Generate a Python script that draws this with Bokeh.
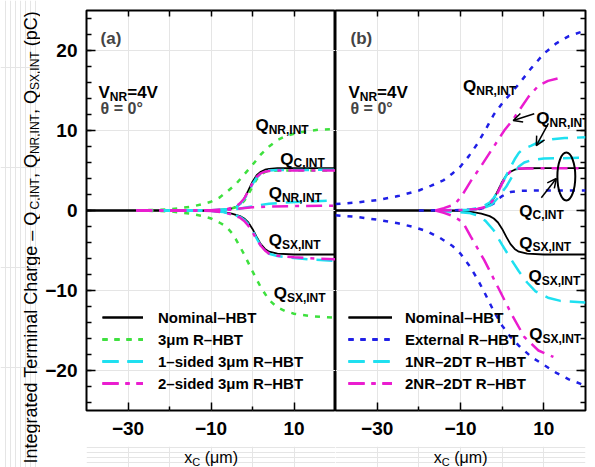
from bokeh.plotting import figure
from bokeh.models import (Range1d, LinearAxis, FixedTicker, Label, Legend, LegendItem,
                          Arrow, OpenHead)
from bokeh.layouts import row, column
from bokeh.embed import file_html
from bokeh.resources import INLINE

FONT = "Liberation Sans"

# ---------------- data: integrated terminal charge (pC) vs x_C (um) ----------------
# Nominal HBT (used in both panels)
nom_x = [-40, -20, -10, -7, -5, -4, -3, -2, -1, 0, 1, 2, 3, 4, 6, 10, 20]
nom_qc = [0, 0, 0.02, 0.1, 0.25, 0.45, 0.8, 1.5, 2.5, 3.6, 4.4, 4.85, 5.1, 5.2, 5.28, 5.3, 5.3]
nom_qsx = [0, 0, -0.05, -0.2, -0.4, -0.55, -0.7, -1.0, -1.5, -2.3, -3.3, -4.2, -4.8, -5.15, -5.4, -5.5, -5.5]

# (a) 3um R-HBT
r3_nr_x = [-28, -20, -15, -12, -10, -8, -6, -4, -2, 0, 2, 4, 6, 8, 10, 13, 16, 20]
r3_nr = [0, 0.15, 0.45, 0.8, 1.1, 1.6, 2.4, 3.3, 4.5, 5.7, 7.0, 8.0, 8.8, 9.3, 9.6, 9.9, 10.1, 10.2]
r3_c_x = [-28, -10, -6, -4, -3, -2, -1, 0, 1, 2, 3, 4, 6, 20]
r3_c = [0, 0, 0.15, 0.4, 0.7, 1.2, 2.0, 3.0, 3.9, 4.5, 4.8, 4.95, 5.0, 5.0]
r3_sx_x = [-28, -20, -15, -12, -10, -8, -7, -6, -5, -4, -2, 0, 2, 4, 6, 8, 10, 14, 20]
r3_sx = [0, -0.1, -0.4, -0.7, -1.0, -1.5, -1.8, -2.2, -2.8, -3.6, -5.5, -7.6, -9.6, -11.2, -12.1, -12.6, -12.9, -13.2, -13.4]

# (a) 1-sided 3um R-HBT
s1_c_x = [-28, -10, -6, -4, -3, -2, -1, 0, 1, 2, 3, 4, 6, 20]
s1_c = [0, 0.02, 0.15, 0.4, 0.8, 1.4, 2.3, 3.3, 4.1, 4.6, 4.85, 5.0, 5.05, 5.1]
s1_nr_x = [-28, -10, -5, -3, 0, 2, 4, 8, 12, 20]
s1_nr = [0, 0, 0.1, 0.25, 0.5, 0.7, 0.85, 1.0, 1.1, 1.25]
s1_sx_x = [-28, -10, -7, -5, -3, -2, -1, 0, 1, 2, 3, 4, 6, 10, 15, 20]
s1_sx = [0, -0.05, -0.2, -0.45, -0.8, -1.15, -1.7, -2.5, -3.5, -4.4, -5.0, -5.4, -5.7, -5.95, -6.15, -6.3]

# (a) 2-sided 3um R-HBT
s2_c_x = [-28, -10, -6, -4, -3, -2, -1, 0, 1, 2, 3, 4, 6, 20]
s2_c = [0, 0.02, 0.2, 0.5, 0.9, 1.5, 2.4, 3.4, 4.2, 4.65, 4.85, 4.95, 5.0, 5.0]
s2_nr_x = [-28, -10, -5, -3, 0, 4, 10, 20]
s2_nr = [0, 0, 0.1, 0.25, 0.4, 0.5, 0.55, 0.6]
s2_sx_x = [-28, -10, -7, -5, -3, -2, -1, 0, 1, 2, 3, 4, 6, 10, 15, 20]
s2_sx = [0, -0.05, -0.25, -0.5, -0.9, -1.3, -1.9, -2.7, -3.6, -4.4, -5.0, -5.4, -5.65, -5.85, -6.0, -6.1]

# (b) External R-HBT
ex_nr_x = [-40, -35, -30, -25, -20, -17, -14, -12, -10, -8, -6, -4, -2, 0, 2, 4, 7, 10, 13, 16, 20]
ex_nr = [0.8, 1.0, 1.3, 1.8, 2.5, 3.1, 3.8, 4.6, 5.5, 6.8, 8.3, 10.1, 12.0, 13.4, 14.6, 15.8, 17.8, 19.6, 20.9, 21.8, 22.5]
ex_c_x = [-20, -10, -6, -4, -2, -1, 0, 1, 2, 4, 8, 20]
ex_c = [0, 0.05, 0.15, 0.35, 0.9, 1.4, 1.8, 2.1, 2.3, 2.45, 2.5, 2.5]
ex_sx_x = [-40, -35, -30, -25, -21, -18, -15, -12, -10, -8, -6, -4, -2, 0, 2, 4, 7, 10, 13, 16, 20]
ex_sx = [-0.6, -0.8, -1.15, -1.6, -2.1, -2.6, -3.4, -4.4, -5.4, -6.8, -8.5, -10.5, -12.6, -14.4, -15.8, -16.9, -18.3, -19.3, -20.3, -21.1, -21.9]

# (b) 1NR-2DT R-HBT
d1_c_x = [-16, -8, -5, -3, -2, -1, 0, 1, 2, 3, 4, 5.3, 7, 10, 20]
d1_c = [0, 0.05, 0.2, 0.6, 1.0, 1.6, 2.3, 3.0, 3.9, 4.8, 5.5, 6.0, 6.3, 6.5, 6.6]
d1_nr_x = [-16, -8, -5, -3, -2, -1, 0, 1, 2, 3, 4, 5, 7, 9, 12, 15, 20]
d1_nr = [0, 0.1, 0.4, 1.0, 1.6, 2.4, 3.4, 4.4, 5.4, 6.4, 7.2, 7.7, 8.1, 8.6, 8.9, 9.05, 9.15]
d1_sx_x = [-16, -8, -6, -4, -2, 0, 2, 4, 6, 8, 11, 14, 20]
d1_sx = [0, -0.3, -0.6, -1.3, -2.5, -4.3, -6.0, -7.6, -9.0, -10.1, -10.9, -11.3, -11.5]

# (b) 2NR-2DT R-HBT
d2_nr_x = [-16, -14, -12.3, -11, -9.5, -7.5, -5, -2, 0.5, 2.5, 4.6, 6.3, 8.7, 11, 14.7]
d2_nr = [0, 0.3, 0.6, 1.0, 2.0, 3.7, 5.6, 8.0, 10.0, 11.3, 12.9, 14.2, 15.6, 16.2, 16.7]
d2_c_x = [-16, -10, -6, -4, -3, -2, -1, 0, 1, 2, 3, 4, 20]
d2_c = [0, 0.05, 0.2, 0.45, 0.8, 1.4, 2.3, 3.4, 4.3, 4.9, 5.15, 5.25, 5.3]
d2_sx_x = [-16, -14, -12.3, -10.5, -9.2, -7.5, -4.3, -1, 2.2, 5.3, 8.7, 12.3]
d2_sx = [0, -0.3, -0.6, -1.1, -1.7, -3.3, -6.2, -9.6, -12.9, -15.8, -17.5, -18.3]

legend_a = ["Nominal\u2013HBT", "3\u03bcm R\u2013HBT", "1\u2013sided 3\u03bcm R\u2013HBT", "2\u2013sided 3\u03bcm R\u2013HBT"]
legend_b = ["Nominal\u2013HBT", "External R\u2013HBT", "1NR\u20132DT R\u2013HBT", "2NR\u20132DT R\u2013HBT"]

x_ticks = [-30, -10, 10]
x_minor = [-20, 0]
x_top_ticks = [-30, -20, -10, 0, 10]
y_ticks = [-20, -10, 0, 10, 20]
y_minor = list(range(-24, 25, 2))

# ---------------- styles ----------------
BLACK = "#000000"
GREEN = "#3ee03e"
CYAN = "#1ee0f0"
MAGENTA = "#ea1ccf"
BLUE = "#1f1fe6"
DOTS = "5 7"
LONG = "16 9"
DASHDOT = "16 7 4 7"

REG = {' ': 278, '(': 333, ')': 333, ',': 278, '\u2013': 556, '=': 584, '0': 556, '4': 556,
       '\u00b0': 400, 'C': 722, 'I': 278, 'N': 722, 'Q': 778, 'R': 722, 'S': 667, 'T': 611,
       'V': 667, 'X': 667, 'a': 556, 'c': 500, 'd': 556, 'e': 556, 'g': 556, 'h': 556,
       'i': 222, 'l': 222, 'm': 833, 'n': 556, 'p': 556, 'r': 333, 't': 278, 'x': 500,
       '\u03bc': 556}
BOLD = dict(REG, **{'c': 556, 'd': 611, 'g': 611, 'h': 611, 'i': 278, 'l': 278, 'm': 889,
                    'n': 611, 'p': 611, 'r': 389, 't': 333, 'x': 556, '\u03bc': 611})


def text_width(s, size, bold):
    table = BOLD if bold else REG
    return sum(table.get(ch, 556) for ch in s) * size / 1000.0


def rich(p, x, y, parts, big, small, bold, sx, sy, drop, angle=0.0):
    """Place text with subscripts; parts is a list of (text, is_subscript)."""
    pos = 0.0
    for txt, is_sub in parts:
        size = small if is_sub else big
        stripped = txt.lstrip(" ")
        pos += text_width(txt[:len(txt) - len(stripped)], size, bold)
        if angle == 0:
            lx = x + pos / sx
            ly = y - (drop / sy if is_sub else 0.0)
        else:
            lx = x + (drop / sx if is_sub else 0.0)
            ly = y + pos / sy
        p.add_layout(Label(x=lx, y=ly, text=stripped, angle=angle, text_font=FONT,
                           text_font_size=f"{size}px",
                           text_font_style="bold" if bold else "normal",
                           text_color="black", text_align="left", text_baseline="alphabetic"))
        pos += text_width(stripped, size, bold)


def axis(ticks, minor, tick_in, minor_in, labels, standoff=0, overrides=None):
    ax = LinearAxis(ticker=FixedTicker(ticks=ticks, minor_ticks=minor),
                    axis_line_color=None, major_tick_in=tick_in, major_tick_out=0,
                    minor_tick_in=minor_in, minor_tick_out=0,
                    major_tick_line_width=1.5, minor_tick_line_width=1.5,
                    major_tick_line_color="black", minor_tick_line_color="black",
                    major_label_text_font=FONT, major_label_text_font_style="bold",
                    major_label_text_font_size="19px", major_label_text_color="black")
    if labels:
        ax.major_label_standoff = standoff
        if overrides:
            ax.major_label_overrides = overrides
    else:
        ax.major_label_standoff = 0
        ax.major_label_overrides = {t: "" for t in ticks}
    return ax


def blank(width, height, xr, yr, left=0, right=0):
    p = figure(width=width, height=height, x_range=xr, y_range=yr,
               output_backend="svg", toolbar_location=None,
               x_axis_location=None, y_axis_location=None,
               min_border_left=left, min_border_right=right,
               min_border_top=0, min_border_bottom=0)
    p.outline_line_color = None
    p.background_fill_color = "white"
    p.border_fill_color = "white"
    return p


def panel(width, left, right):
    p = figure(width=width, height=446, x_range=Range1d(-40, 20), y_range=Range1d(-25, 25),
               output_backend="svg", toolbar_location=None,
               x_axis_location=None, y_axis_location=None,
               min_border_left=left, min_border_right=right,
               min_border_top=10, min_border_bottom=36)
    p.outline_line_color = "black"
    p.outline_line_width = 2
    p.background_fill_color = "white"
    p.border_fill_color = "white"
    p.add_layout(axis(x_ticks, x_minor, 8, 4, True, 11,
                      {-30: "\u221230", -10: "\u221210", 10: "10"}), "below")
    p.add_layout(axis(x_top_ticks, [], 6, 0, False), "above")
    return p


def curves(p, xs_ys, color, dash, width):
    rs = []
    for xs, ys in xs_ys:
        rs.append(p.line(xs, ys, line_color=color, line_dash=dash, line_width=width))
    return rs


def legend(p, names, groups, x0, glyph_w, standoff):
    items = [LegendItem(label=n, renderers=g) for n, g in zip(names, groups)]
    lg = Legend(items=items, location=(x0, 17), glyph_width=glyph_w, glyph_height=20,
                label_height=20, label_standoff=standoff, spacing=2, padding=0, margin=0,
                border_line_alpha=0, background_fill_alpha=0,
                label_text_font=FONT, label_text_font_style="bold",
                label_text_font_size="15px", label_text_color="black",
                label_text_baseline="middle")
    p.add_layout(lg)


def q_label(p, x, y, sub, sx):
    rich(p, x, y, [("Q", False), (sub, True)], 17, 12, True, sx, 8, 4)


def header(p, tag, x, sx):
    p.add_layout(Label(x=x, y=21.5, text=tag, text_font=FONT, text_font_size="17px",
                       text_font_style="bold", text_baseline="alphabetic"))
    rich(p, x - 0.5, 14.75, [("V", False), ("NR", True), ("=4V", False)], 17, 12, True, sx, 8, 4)
    p.add_layout(Label(x=x, y=12.75, text="\u03b8 = 0\u00b0", text_font=FONT,
                       text_font_size="16px", text_font_style="bold",
                       text_baseline="alphabetic"))


def x_title(width, left, right, sx):
    p = blank(width, 21, Range1d(-40, 20), Range1d(0, 21), left, right)
    parts = [("x", False), ("C", True), (" (\u03bcm)", False)]
    w = sum(text_width(t, 11 if s else 16, False) for t, s in parts)
    rich(p, -10 - w / 2 / sx, 10, parts, 16, 11, False, sx, 1, 4.5)
    return p


# ---------------- panel (a) ----------------
pa = panel(295, 46, 0)
SXA = 249 / 60.0
pa.add_layout(axis(y_ticks, y_minor, 9, 5, True, 9,
                   {-20: "\u221220", -10: "\u221210", 0: "0", 10: "10", 20: "20"}), "left")

g_nom_a = curves(pa, [(nom_x, nom_qc), (nom_x, nom_qsx)], BLACK, "solid", 1.8)
g_r3 = curves(pa, [(r3_nr_x, r3_nr), (r3_c_x, r3_c), (r3_sx_x, r3_sx)], GREEN, DOTS, 2.5)
g_s1 = curves(pa, [(s1_c_x, s1_c), (s1_nr_x, s1_nr), (s1_sx_x, s1_sx)], CYAN, LONG, 2.5)
g_s2 = curves(pa, [(s2_c_x, s2_c), (s2_nr_x, s2_nr), (s2_sx_x, s2_sx)], MAGENTA, DASHDOT, 2.5)
legend(pa, legend_a, [g_nom_a, g_r3, g_s1, g_s2], 16, 41, 15)

header(pa, "(a)", -36.6, SXA)
q_label(pa, 0.7, 10.6, "NR,INT", SXA)
q_label(pa, 6.7, 6.4, "C,INT", SXA)
q_label(pa, 3.9, 2.1, "NR,INT", SXA)
q_label(pa, 3.9, -3.75, "SX,INT", SXA)
q_label(pa, 5.1, -10.4, "SX,INT", SXA)

# ---------------- panel (b) ----------------
pb = panel(260, 0, 10)
SXB = 250 / 60.0
pb.add_layout(axis(y_ticks, y_minor, 9, 5, False), "right")

g_nom_b = curves(pb, [(nom_x, nom_qc), (nom_x, nom_qsx)], BLACK, "solid", 1.8)
g_ex = curves(pb, [(ex_nr_x, ex_nr), (ex_c_x, ex_c), (ex_sx_x, ex_sx)], BLUE, DOTS, 2.5)
g_d1 = curves(pb, [(d1_c_x, d1_c), (d1_nr_x, d1_nr), (d1_sx_x, d1_sx)], CYAN, LONG, 2.5)
g_d2 = curves(pb, [(d2_nr_x, d2_nr), (d2_c_x, d2_c), (d2_sx_x, d2_sx)], MAGENTA, DASHDOT, 2.5)
legend(pb, legend_b, [g_nom_b, g_ex, g_d1, g_d2], 13, 44, 13)

header(pb, "(b)", -36.4, SXB)
q_label(pb, -9.4, 15.5, "NR,INT", SXB)
q_label(pb, 8.2, 11.5, "NR,INT", SXB)
q_label(pb, 4.1, -0.1, "C,INT", SXB)
q_label(pb, 4.1, -4.1, "SX,INT", SXB)
q_label(pb, 6.3, -8.25, "SX,INT", SXB)
q_label(pb, 6.5, -15.5, "SX,INT", SXB)

for xs, ys, xe, ye in [(7.7, 12.1, 2.65, 11.25), (11.1, 10.9, 8.2, 8.1), (9.4, 1.6, 13.0, 4.0)]:
    pb.add_layout(Arrow(end=OpenHead(size=9, line_width=1.5, line_color="black"),
                        x_start=xs, y_start=ys, x_end=xe, y_end=ye,
                        line_width=1.5, line_color="black"))
pb.ellipse(x=[15.4], y=[4.25], width=4.3, height=6.0, fill_color=None,
           line_color="black", line_width=2)

# ---------------- axis titles ----------------
ylab = blank(40, 467, Range1d(0, 40), Range1d(0, 467))
rich(ylab, 30, 4,
     [("Integrated Terminal Charge \u2013 Q", False), ("C,INT", True), (", Q", False),
      ("NR,INT", True), (", Q", False), ("SX,INT", True), (" (pC)", False)],
     18, 12, False, 1, 1, 4, angle=1.5707963267948966)

xta = x_title(295, 46, 0, SXA)
xtb = x_title(260, 0, 10, SXB)

layout = row(ylab, column(row(pa, pb), row(xta, xtb)))
open("out.html", "w").write(file_html(layout, INLINE))
